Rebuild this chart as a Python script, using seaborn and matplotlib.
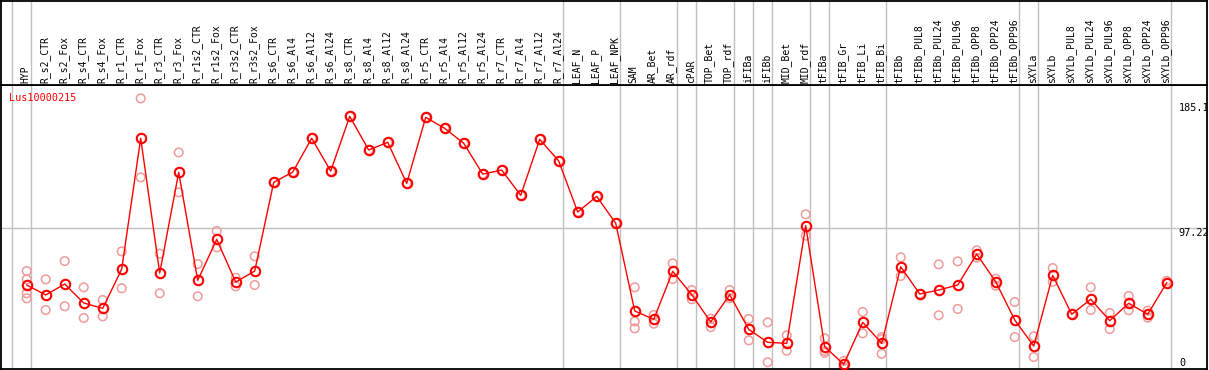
import numpy as np
import pandas as pd
import seaborn as sns
from matplotlib import pyplot as plt
from matplotlib import transforms

gene = "Lus10000215"

tissues = ["HYP", "R_s2_CTR", "R_s2_Fox", "R_s4_CTR", "R_s4_Fox", "R_r1_CTR", "R_r1_Fox",
           "R_r3_CTR", "R_r3_Fox", "R_r1s2_CTR", "R_r1s2_Fox", "R_r3s2_CTR", "R_r3s2_Fox",
           "R_s6_CTR", "R_s6_Al4", "R_s6_Al12", "R_s6_Al24", "R_s8_CTR", "R_s8_Al4",
           "R_s8_Al12", "R_s8_Al24", "R_r5_CTR", "R_r5_Al4", "R_r5_Al12", "R_r5_Al24",
           "R_r7_CTR", "R_r7_Al4", "R_r7_Al12", "R_r7_Al24", "LEAF_N", "LEAF_P", "LEAF_NPK",
           "SAM", "AR_Bet", "AR_rdf", "cPAR", "TOP_Bet", "TOP_rdf", "iFIBa", "iFIBb",
           "MID_Bet", "MID_rdf", "tFIBa", "tFIB_Gr", "tFIB_Li", "tFIB_Bi", "tFIBb",
           "tFIBb_PUL8", "tFIBb_PUL24", "tFIBb_PUL96", "tFIBb_OPP8", "tFIBb_OPP24",
           "tFIBb_OPP96", "sXYLa", "sXYLb", "sXYLb_PUL8", "sXYLb_PUL24", "sXYLb_PUL96",
           "sXYLb_OPP8", "sXYLb_OPP24", "sXYLb_OPP96"]

# tissues per group (gray separators)
group_sizes = [1, 28, 3, 3, 1, 2, 1, 1, 2, 1, 3, 7, 1, 7]

means = [57.5, 50.5, 58.2, 44.9, 41.1, 68.7, 160.4, 65.9, 136.5, 60.8, 89.5, 59.6, 67.3,
         129.5, 136.7, 160.4, 137.4, 175.8, 152.2, 157.6, 128.8, 175.1, 167.4, 156.9, 135.3,
         138.1, 120.4, 159.7, 144.5, 108.7, 119.7, 100.8,
         39.3, 33.4, 67.1, 50.7, 31.6, 50.7, 26.4, 17.3, 16.6, 99.1, 14.2, 1.9, 31.3, 16.6,
         70.3, 51.2, 54.0, 57.5, 79.2, 59.8, 33.0, 14.7, 64.3, 37.0, 47.5, 32.5, 44.7, 37.0,
         59.1]

reps = [[67.3, 61.5, 51.7, 48.2], [61.5, 40.0], [74.3, 42.6], [55.9, 34.4], [47.0, 35.5],
        [81.1, 55.2], [188.4, 133.0], [79.5, 51.7], [150.5, 122.5], [72.2, 49.6],
        [95.4, 83.9], [62.6, 56.6], [77.6, 57.5],
        [129.5], [136.7], [160.4], [137.4], [175.8], [152.2], [157.6], [128.8], [175.1],
        [167.4], [156.9], [135.3], [138.1], [120.4], [159.7], [144.5], [108.7], [119.7],
        [100.8],
        [55.9, 32.0, 27.1], [36.5, 30.4], [72.7, 61.7], [54.0, 47.5], [33.9, 28.0],
        [54.0, 48.2], [33.7, 18.7], [31.3, 3.3], [22.2, 11.4], [107.1, 92.1],
        [20.1, 11.4, 10.0], [4.2, 0.0], [38.6, 23.6], [21.0, 19.6, 9.3],
        [76.9, 63.8], [51.2], [72.0, 36.3], [74.1, 40.7], [81.8, 76.7], [61.9, 57.0],
        [45.6, 21.0], [21.5, 7.0], [69.4, 59.8], [37.0], [55.9, 40.0], [37.9, 26.6],
        [49.8, 39.8], [39.5, 34.6], [60.5, 58.7]]

y_ticks = [0, 97.22, 185.1]

df_mean = pd.DataFrame({"tissue": tissues, "value": means})
df_mean["pos"] = np.arange(len(tissues))
df_rep = pd.DataFrame([(i, v) for i, r in enumerate(reps) for v in r], columns=["pos", "value"])

mono = "DejaVu Sans Mono"
fig = plt.figure(figsize=(12.09, 3.70), dpi=100)
ax = fig.add_axes([1 / 1209, 1 / 370, 1206 / 1209, 284 / 370])
ax_top = fig.add_axes([1 / 1209, 285 / 370, 1206 / 1209, 84.4 / 370], sharex=ax)

# group separators
bounds = np.concatenate([[-1], np.cumsum(group_sizes) - 1]) + 0.2
for a in (ax, ax_top):
    for b in bounds:
        a.axvline(b, color="#c0c0c0", lw=1.0, zorder=0)
    for s in a.spines.values():
        s.set_color("black")
        s.set_linewidth(1.3)
ax.axhline(y_ticks[1], color="#c0c0c0", lw=1.0, zorder=0)

sns.scatterplot(ax=ax, data=df_rep, x="pos", y="value", marker="o", s=38,
                facecolor="none", edgecolor="#f09a9a", linewidth=1.1, zorder=2)
sns.lineplot(ax=ax, data=df_mean, x="pos", y="value", color="red", lw=1.0,
             marker="o", markersize=6.8, markerfacecolor="none", markeredgecolor="red",
             markeredgewidth=1.5, zorder=3)

ax.set_xlim(-1.353, 62.12)
ax.set_ylim(-1.4, 197.8)
ax.set_xticks([])
ax.set_yticks([])
ax.set_xlabel("")
ax.set_ylabel("")
ax_top.set_ylim(0, 1)
ax_top.set_yticks([])
ax_top.tick_params(bottom=False, labelbottom=False)

for i, t in enumerate(tissues):
    ax_top.text(i - 0.05, 0.025, t, rotation=90, ha="center", va="bottom",
                family=mono, fontsize=7, color="black")

ax.text(0.007, 0.955, gene, transform=ax.transAxes, color="red", family=mono,
        fontsize=7.3, ha="left", va="center")

tr = transforms.blended_transform_factory(ax.transAxes, ax.transData)
ax.text(0.9765, y_ticks[2], "185.1", transform=tr, family=mono, fontsize=7.3,
        ha="left", va="top")
ax.text(0.9765, y_ticks[1], "97.22", transform=tr, family=mono, fontsize=7.3,
        ha="left", va="top")
ax.text(0.9773, y_ticks[0] + 0.9, "0", transform=tr, family=mono, fontsize=7.3,
        ha="left", va="baseline")

plt.savefig("out.png", dpi=100)
